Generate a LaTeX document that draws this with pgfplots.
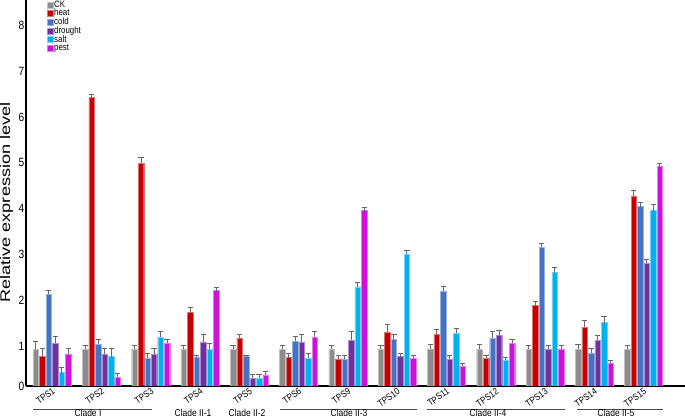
\documentclass[border=0pt]{standalone}
\usepackage{fontspec}
\setmainfont{Liberation Sans}
\usepackage{graphicx}
\usepackage{pgfplots}
\usepackage{pgfplotstable}
\pgfplotsset{compat=1.18}
\newcommand{\sx}[1]{\scalebox{0.85}[1]{#1}}
\definecolor{cCK}{HTML}{8C8C8C}
\definecolor{cheat}{HTML}{C40000}
\definecolor{ccold}{HTML}{4472C4}
\definecolor{cdrought}{HTML}{7030A0}
\definecolor{csalt}{HTML}{00B0F0}
\definecolor{cpest}{HTML}{CC11DD}
\definecolor{errgray}{HTML}{666666}
\pgfplotstableread{
x CK CKe heat heate cold colde drought droughte salt salte pest peste
0 0.95 0.15 0.78 0.18 2.14 0.09 1.07 0.14 0.43 0.12 0.84 0.11
1 0.95 0.08 6.43 0.07 1.05 0.11 0.84 0.12 0.78 0.18 0.33 0.09
2 0.95 0.08 4.99 0.13 0.74 0.12 0.84 0.12 1.21 0.11 1.07 0.09
3 0.95 0.08 1.74 0.11 0.76 0.05 1.10 0.17 0.95 0.12 2.22 0.07
4 0.95 0.08 1.19 0.08 0.78 0.03 0.31 0.08 0.31 0.08 0.38 0.07
5 0.95 0.08 0.76 0.10 1.12 0.09 1.10 0.17 0.75 0.09 1.20 0.12
6 0.95 0.08 0.73 0.07 0.73 0.07 1.14 0.18 2.30 0.09 3.96 0.07
7 0.95 0.08 1.31 0.17 1.16 0.11 0.78 0.06 3.02 0.08 0.75 0.06
8 0.95 0.10 1.27 0.11 2.21 0.09 0.73 0.07 1.29 0.11 0.58 0.05
9 0.95 0.10 0.75 0.06 1.19 0.13 1.24 0.10 0.71 0.05 1.07 0.09
10 0.95 0.07 1.89 0.09 3.16 0.09 0.95 0.07 2.61 0.12 0.95 0.07
11 0.95 0.10 1.42 0.14 0.86 0.10 1.14 0.10 1.52 0.14 0.64 0.05
12 0.95 0.08 4.28 0.13 4.05 0.09 2.81 0.09 3.96 0.14 4.92 0.07
}\datatable
\begin{document}
\begin{tikzpicture}
\begin{axis}[
  scale only axis, width=659bp, height=386bp,
  ybar=1bp, bar width=5.5bp,
  xmin=-0.53, xmax=12.84, ymin=0.14, ymax=8.55,
  axis x line*=bottom, axis y line*=left,
  axis line style={-, line width=1.4bp},
  major tick length=0pt,
  xtick={0,...,12},
  xticklabels={\sx{TPS1},\sx{TPS2},\sx{TPS3},\sx{TPS4},\sx{TPS5},\sx{TPS6},\sx{TPS9},\sx{TPS10},\sx{TPS11},\sx{TPS12},\sx{TPS13},\sx{TPS14},\sx{TPS15}},
  xticklabel style={font=\fontsize{9.5}{10}\selectfont, rotate=35, anchor=north east, inner sep=1bp},
  ytick={0.14,1,2,3,4,5,6,7,8},
  yticklabels={\sx{0},\sx{1},\sx{2},\sx{3},\sx{4},\sx{5},\sx{6},\sx{7},\sx{8}},
  yticklabel style={font=\fontsize{12}{12}\selectfont, anchor=east, inner sep=1.5bp},
  /pgf/number format/assume math mode=true,
  legend style={at={(axis description cs:0,1)}, anchor=north west, xshift=21bp, yshift=-0.5bp,
    draw=none, fill=none, font=\fontsize{9.3}{9}\selectfont, inner sep=0pt, row sep=0pt,
    nodes={inner sep=0.4bp, text height=6.2bp, text depth=1.7bp},
    /tikz/every even column/.append style={column sep=1.5bp}},
  legend cell align=left,
  legend image code/.code={\fill[#1] (0bp,-2.7bp) rectangle (6.2bp,3.3bp);},
  error bars/error bar style={line width=0.9bp, color=errgray},
  error bars/error mark options={rotate=90, mark size=2.6bp, line width=0.9bp, color=errgray},
]
\addplot[fill=cCK, draw=cCK!55!white, line width=0.4bp, error bars/.cd, y dir=plus, y explicit] table[x=x, y=CK, y error=CKe]{\datatable};
\addplot[fill=cheat, draw=cheat!55!white, line width=0.4bp, error bars/.cd, y dir=plus, y explicit] table[x=x, y=heat, y error=heate]{\datatable};
\addplot[fill=ccold, draw=ccold!55!white, line width=0.4bp, error bars/.cd, y dir=plus, y explicit] table[x=x, y=cold, y error=colde]{\datatable};
\addplot[fill=cdrought, draw=cdrought!55!white, line width=0.4bp, error bars/.cd, y dir=plus, y explicit] table[x=x, y=drought, y error=droughte]{\datatable};
\addplot[fill=csalt, draw=csalt!55!white, line width=0.4bp, error bars/.cd, y dir=plus, y explicit] table[x=x, y=salt, y error=salte]{\datatable};
\addplot[fill=cpest, draw=cpest!55!white, line width=0.4bp, error bars/.cd, y dir=plus, y explicit] table[x=x, y=pest, y error=peste]{\datatable};
\legend{\sx{CK},\sx{heat},\sx{cold},\sx{drought},\sx{salt},\sx{pest}}
\end{axis}
\node[rotate=90, anchor=center, inner sep=0pt] at (-19.5bp,183.5bp)
  {\scalebox{1.3}[1]{\fontsize{14}{16}\selectfont Relative expression level}};
\begin{scope}[font=\fontsize{10}{11}\selectfont]
\draw[line width=0.6bp, color=black!70] (7bp,-23bp) -- (126bp,-23bp);
\draw[line width=0.6bp, color=black!70] (254bp,-23bp) -- (391bp,-23bp);
\draw[line width=0.6bp, color=black!70] (401bp,-23bp) -- (539bp,-23bp);
\draw[line width=0.6bp, color=black!70] (551bp,-23bp) -- (637bp,-23bp);
\node[anchor=base, inner sep=0pt] at (62bp,-30.5bp) {\sx{Clade I}};
\node[anchor=base, inner sep=0pt] at (167bp,-30.5bp) {\sx{Clade II-1}};
\node[anchor=base, inner sep=0pt] at (221bp,-30.5bp) {\sx{Clade II-2}};
\node[anchor=base, inner sep=0pt] at (323bp,-30.5bp) {\sx{Clade II-3}};
\node[anchor=base, inner sep=0pt] at (462bp,-30.5bp) {\sx{Clade II-4}};
\node[anchor=base, inner sep=0pt] at (590bp,-30.5bp) {\sx{Clade II-5}};
\end{scope}
\pgfresetboundingbox
\path[use as bounding box] (-26bp,-32bp) rectangle (659bp,386bp);
\end{tikzpicture}
\end{document}
